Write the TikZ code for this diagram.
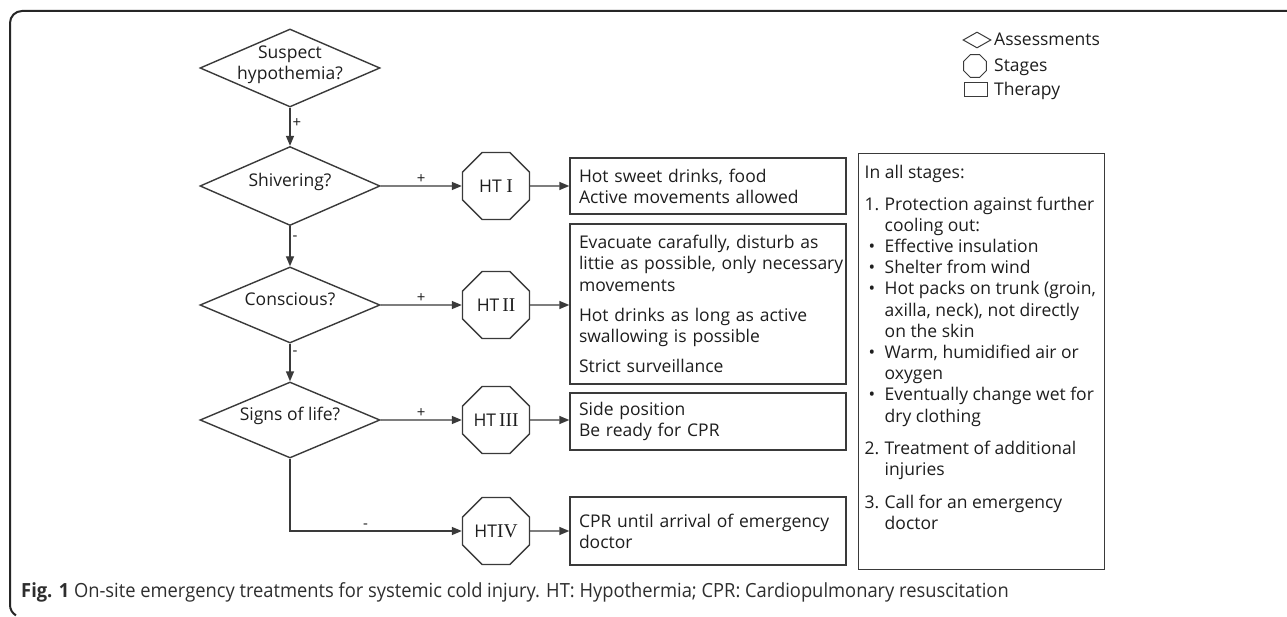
\documentclass[tikz,border=0pt]{standalone}
\usepackage{fontspec}
\setmainfont{Open Sans}
\newfontfamily\romfont{Liberation Serif}
\newfontfamily\capfont[FakeStretch=0.94]{Open Sans}
\usetikzlibrary{shapes.geometric,arrows.meta}
\definecolor{ln}{HTML}{3A3A3A}
\definecolor{tx}{HTML}{1E1E1E}
\newcommand{\rn}[1]{{\romfont\fontsize{19.5}{19.5}\selectfont #1}}
\newcommand{\dtext}[1]{\smash{\makebox[0pt]{\raisebox{-1pt}{\begin{tabular}{@{}c@{}}#1\end{tabular}}}}}
\begin{document}
\begin{tikzpicture}[x=1pt,y=-1pt,
  every node/.style={text=tx},
  base/.style={font=\fontsize{17.5}{21.2}\selectfont},
  dia/.style={diamond, draw=ln, line width=1.4pt, inner sep=0pt, minimum width=180pt, base},
  oct/.style={regular polygon, regular polygon sides=8, draw=ln, line width=1.4pt, minimum size=72.5pt, inner sep=0pt, base},
  tbox/.style={rectangle, draw=ln, line width=1.4pt, text width=258pt, inner xsep=9pt, inner ysep=0pt, align=left, base},
  arr/.style={draw=ln, line width=1.4pt, -{Triangle[length=10pt,width=8pt]}},
  sg/.style={font=\fontsize{15}{15}\selectfont, inner sep=2pt},
  lgd/.style={draw=ln, line width=1pt, inner sep=0pt},
  lgt/.style={base, anchor=base west, inner sep=0pt},
]
\useasboundingbox (0,0) rectangle (1287,617);
\fill[white] (0,0) rectangle (1287,617);

% frame
\draw[line width=2pt, black!85] (1287,11) -- (22,11) arc[start angle=270, end angle=180, radius=12] -- (10,605) arc[start angle=180, end angle=120, radius=12];

% assessments
\node[dia, minimum height=78pt] (d1) at (290,68) {\dtext{Suspect\\hypothemia?}};
\node[dia, minimum height=79pt] (d2) at (290,186) {\dtext{Shivering?}};
\node[dia, minimum height=76pt] (d3) at (290,305) {\dtext{Conscious?}};
\node[dia, minimum height=76pt] (d4) at (290,420) {\dtext{Signs of life?}};

% stages
\node[oct] (h1) at (496,186) {HT \rn{I}};
\node[oct] (h2) at (496,305) {HT\,\rn{II}};
\node[oct] (h3) at (496,420) {HT\,\rn{III}};
\node[oct] (h4) at (496,531) {HT\rn{IV}};

% therapy
\node[tbox, minimum height=56pt] (b1) at (708,186) {Hot sweet drinks, food\\Active movements allowed};
\node[tbox, minimum height=160pt] (b2) at (708,304) {Evacuate carafully, disturb as\\\mbox{littie as possible, only necessary}\\movements\\[9pt]Hot drinks as long as active\\swallowing is possible\\[9pt]Strict surveillance};
\node[tbox, minimum height=57pt] (b3) at (708,421.5) {Side position\\Be ready for CPR};
\node[tbox, minimum height=68pt] (b4) at (708,531) {CPR until arrival of emergency\\doctor};

% all stages
\node[draw=ln, line width=1.4pt, anchor=north west, inner xsep=6pt, inner ysep=2pt] (all) at (858,153) {\parbox[c][412pt][t]{234pt}{\fontsize{17.5}{21.2}\selectfont\raggedright
\vspace*{10pt}%
In all stages:\\[10pt]
\makebox[20pt][l]{1.}Protection against further\\
\hspace*{20pt}cooling out:\\
\makebox[20pt][l]{\hspace{4pt}\textbullet}Effective insulation\\
\makebox[20pt][l]{\hspace{4pt}\textbullet}Shelter from wind\\
\makebox[20pt][l]{\hspace{4pt}\textbullet}Hot packs on trunk (groin,\\
\hspace*{20pt}axilla, neck), not directly\\
\hspace*{20pt}on the skin\\
\makebox[20pt][l]{\hspace{4pt}\textbullet}Warm, humidified air or\\
\hspace*{20pt}oxygen\\
\makebox[20pt][l]{\hspace{4pt}\textbullet}Eventually change wet for\\
\hspace*{20pt}dry clothing\\[11pt]
\makebox[20pt][l]{2.}Treatment of additional\\
\hspace*{20pt}injuries\\[12pt]
\makebox[20pt][l]{3.}Call for an emergency\\
\hspace*{20pt}doctor}};

% connectors
\draw[arr] (d1) -- node[sg, right, pos=0.4] (l1) {+} (d2);
\draw[arr] (d2) -- node[sg, right, pos=0.3] (l2) {-} (d3);
\draw[arr] (d3) -- node[sg, right, pos=0.25] (l3) {-} (d4);
\draw[arr] (d4) |- node[sg, above, pos=0.72] (l4) {-} (h4);
\draw[arr] (d2) -- node[sg, above] (l5) {+} (h1);
\draw[arr] (d3) -- node[sg, above] (l6) {+} (h2);
\draw[arr] (d4) -- node[sg, above] (l7) {+} (h3);
\draw[arr] (h1) -- (b1);
\draw[arr] (h2) -- (b2.west |- h2);
\draw[arr] (h3) -- (b3.west |- h3);
\draw[arr] (h4) -- (b4);

% legend
\node[lgd, diamond, aspect=1.75, minimum width=28pt, minimum height=16pt] (g1) at (977,40) {};
\node[lgt] (t1) at (994,46) {Assessments};
\node[lgd, regular polygon, regular polygon sides=8, minimum size=24.5pt] (g2) at (975,66) {};
\node[lgt] (t2) at (994,72) {Stages};
\node[lgd, rectangle, minimum width=23pt, minimum height=14pt] (g3) at (975.5,90) {};
\node[lgt] (t3) at (994,96) {Therapy};

% caption
\node[anchor=base west, inner sep=0pt, font=\capfont\fontsize{19.5}{19.5}\selectfont, text=black!82] (cap) at (21,597) {\textbf{Fig. 1} On-site emergency treatments for systemic cold injury. HT: Hypothermia; CPR: Cardiopulmonary resuscitation};
\end{tikzpicture}
\end{document}
